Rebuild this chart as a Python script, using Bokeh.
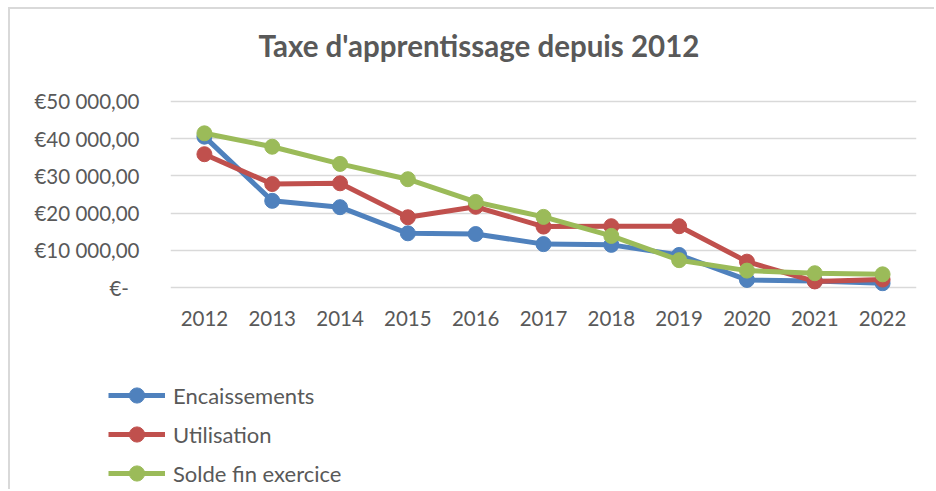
from bokeh.plotting import figure
from bokeh.models import (ColumnDataSource, FixedTicker, Range1d, FactorRange,
                          Legend, LegendItem, Title)
from bokeh.embed import file_html
from bokeh.resources import INLINE

# ---- data ----
years = ["2012", "2013", "2014", "2015", "2016", "2017", "2018", "2019", "2020", "2021", "2022"]
encaissements = [40500, 23300, 21600, 14600, 14400, 11700, 11500, 8800, 2100, 1800, 1200]
utilisation = [35800, 27800, 28000, 18900, 21700, 16400, 16500, 16500, 7000, 1700, 2200]
solde_fin_exercice = [41400, 37800, 33200, 29100, 23000, 19000, 13900, 7400, 4600, 3900, 3600]
series_names = ["Encaissements", "Utilisation", "Solde fin exercice"]
series_colors = ["#4f81bd", "#c0504d", "#9bbb59"]
y_ticks = [0, 10000, 20000, 30000, 40000, 50000]
y_tick_labels = ["€-\u00a0\u00a0", "€10 000,00", "€20 000,00", "€30 000,00", "€40 000,00", "€50 000,00"]
title_text = "Taxe d'apprentissage depuis 2012"

TEXT = "#595959"
FONT = "Lato"
FRAME = "2px solid #d9d9d9"

# ---- main chart ----
p = figure(x_range=FactorRange(*years), y_range=Range1d(-1000, 51000),
           width=926, height=351, output_backend="svg", toolbar_location=None,
           min_border_left=160, min_border_right=20, min_border_top=88, min_border_bottom=69)
p.styles = {"margin-left": "8px", "margin-top": "7px",
            "border-top": FRAME, "border-left": FRAME}
p.outline_line_color = None
p.background_fill_color = "white"
p.border_fill_color = "white"

p.title.text = title_text
p.title.align = "left"
p.title.offset = 88
p.title.standoff = 0
p.title.text_font = FONT
p.title.text_font_style = "bold"
p.title.text_font_size = "29.5px"
p.title.text_color = TEXT
# blank spacer between the title and the plot area
p.add_layout(Title(text=" ", text_font_size="1px", standoff=32), "above")

p.xgrid.grid_line_color = None
p.ygrid.grid_line_color = "#d9d9d9"
p.ygrid.grid_line_width = 1.5

p.yaxis.ticker = FixedTicker(ticks=y_ticks)
p.yaxis.major_label_overrides = {t: l for t, l in zip(y_ticks, y_tick_labels)}
for ax in (p.xaxis[0], p.yaxis[0]):
    ax.axis_line_color = None
    ax.major_tick_line_color = None
    ax.minor_tick_line_color = None
    ax.major_tick_out = 0
    ax.major_tick_in = 0
    ax.major_label_text_font = FONT
    ax.major_label_text_font_size = "20.5px"
    ax.major_label_text_color = TEXT
p.yaxis.major_label_standoff = 31
p.xaxis.major_label_standoff = 19

series = [encaissements, utilisation, solde_fin_exercice]
sources = []
for name, vals, col in zip(series_names, series, series_colors):
    src = ColumnDataSource(dict(x=years, y=vals))
    sources.append(src)
    p.line("x", "y", source=src, line_color=col, line_width=5)
    p.scatter("x", "y", source=src, size=15, fill_color=col, line_color=col)

# ---- legend panel (below the chart); its ranges keep the series out of view ----
pl = figure(width=926, height=131, output_backend="svg", toolbar_location=None,
            x_axis_type=None, y_axis_type=None,
            x_range=FactorRange(*years), y_range=Range1d(-2, -1),
            min_border_left=0, min_border_right=0, min_border_top=0, min_border_bottom=0)
pl.title = None
pl.styles = {"margin-left": "8px", "border-left": FRAME}
pl.outline_line_color = None
pl.background_fill_color = "white"
pl.border_fill_color = "white"

items = []
for name, src, col in zip(series_names, sources, series_colors):
    ln = pl.line("x", "y", source=src, line_color=col, line_width=5)
    sc = pl.scatter("x", "y", source=src, size=15, fill_color=col, line_color=col)
    items.append(LegendItem(label=name, renderers=[ln, sc]))

legend = Legend(items=items, location=(98, -3), border_line_color=None,
                background_fill_alpha=0, padding=0, margin=0, spacing=1,
                glyph_width=57, glyph_height=38, label_height=38, label_standoff=8,
                label_text_font=FONT, label_text_font_size="22px", label_text_color=TEXT)
pl.add_layout(legend)

open("out.html", "w").write(file_html([p, pl], INLINE))
